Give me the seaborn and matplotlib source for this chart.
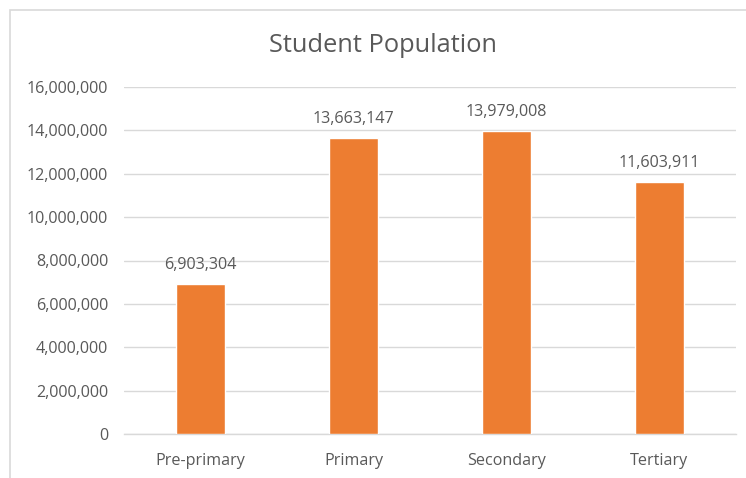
import matplotlib
matplotlib.use("Agg")
import matplotlib.pyplot as plt
import seaborn as sns
import pandas as pd
from matplotlib.patches import Rectangle
from matplotlib.ticker import FuncFormatter

categories = ["Pre-primary", "Primary", "Secondary", "Tertiary"]
values = [6903304, 13663147, 13979008, 11603911]
title = "Student Population"

sns.set_theme(style="white")
plt.rcParams['font.family'] = ['Open Sans', 'DejaVu Sans']

df = pd.DataFrame({"level": categories, "students": values})

fig = plt.figure(figsize=(7.46, 4.78), dpi=100)
ax = fig.add_axes([124/746, 1-434/478, (736-124)/746, (434-87)/478])

text_color = "#595959"
sns.barplot(data=df, x="level", y="students", color="#ED7D31", width=0.32,
            saturation=1, ax=ax, zorder=3)

ax.set_ylim(0, 16000000)
ax.set_xlim(-0.5, 3.5)
ax.set_yticks(range(0, 16000001, 2000000))
ax.yaxis.set_major_formatter(FuncFormatter(lambda v, p: f"{int(v):,}"))
ax.grid(axis="y", color="#D9D9D9", linewidth=1, zorder=0)
ax.grid(axis="x", visible=False)
for s in ["top", "right", "left"]:
    ax.spines[s].set_visible(False)
ax.spines["bottom"].set_color("#D9D9D9")
ax.spines["bottom"].set_linewidth(1)
ax.tick_params(axis="both", length=0, colors=text_color, labelsize=11.6)
ax.tick_params(axis="y", pad=11.5)
ax.tick_params(axis="x", pad=14)
ax.set_xlabel("")
ax.set_ylabel("")

for c in ax.containers:
    ax.bar_label(c, labels=[f"{v:,}" for v in values], padding=8,
                 color=text_color, fontsize=11.6)

fig.text(383/746, 1-46/478, title, ha="center", va="center",
         fontsize=18.3, color=text_color)

fig.patches.append(Rectangle((10/746, -0.01), 1.0, 1 - 10/478 + 0.01,
                             transform=fig.transFigure, fill=False,
                             edgecolor="#D9D9D9", linewidth=1.2))

fig.savefig("out.png", dpi=100)
